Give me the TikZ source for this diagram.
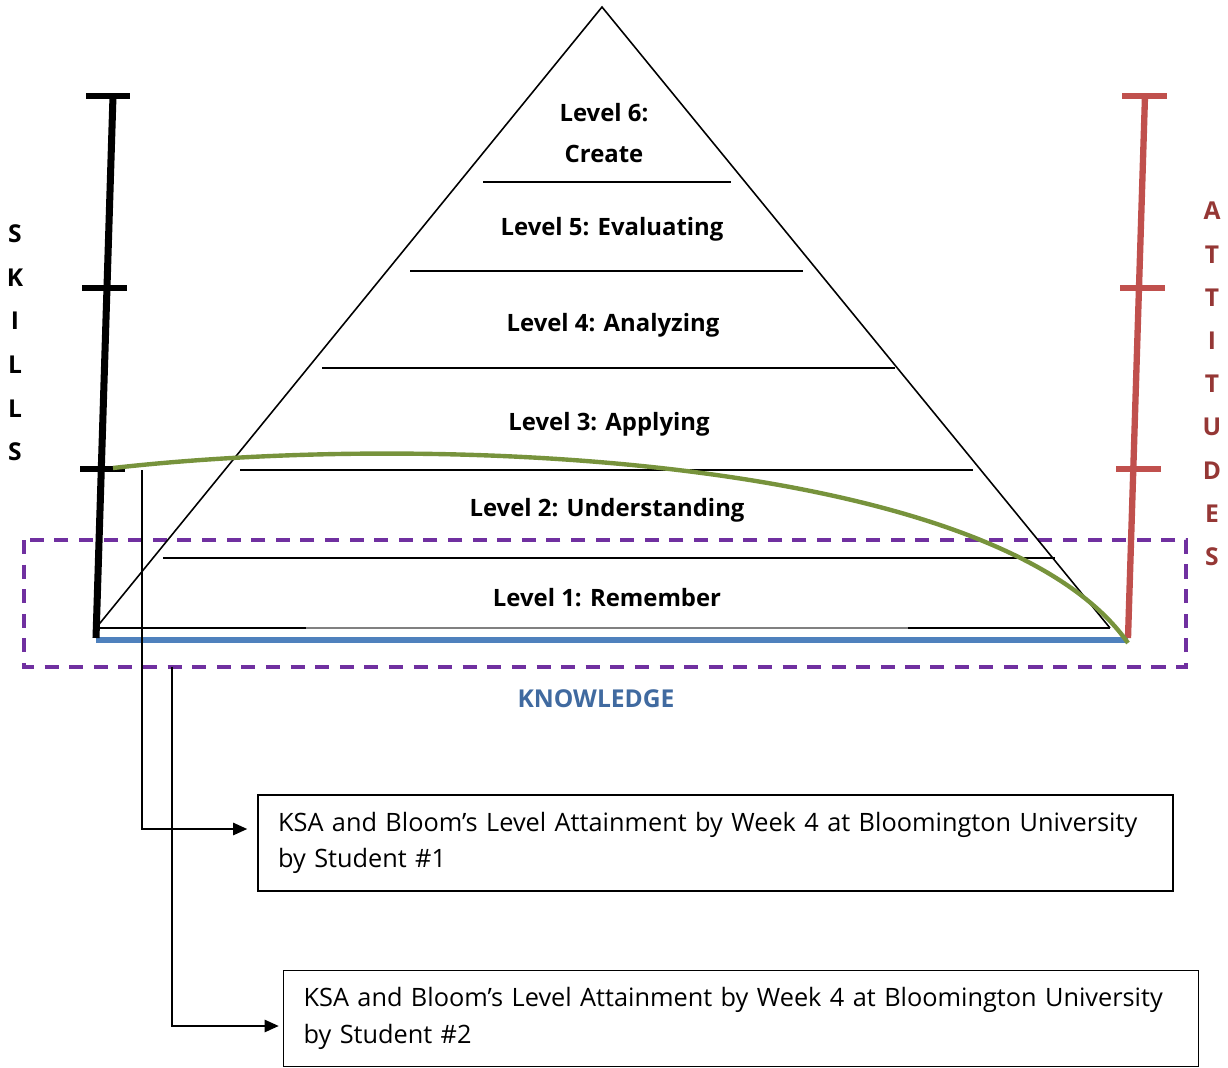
\documentclass[tikz,border=0pt]{standalone}
\usepackage{fontspec}
\setmainfont{Open Sans}
\usetikzlibrary{arrows.meta, positioning}
\definecolor{knowblue}{RGB}{79,129,189}
\definecolor{knowtext}{RGB}{64,106,160}
\definecolor{attred}{RGB}{192,80,77}
\definecolor{atttext}{RGB}{149,55,53}
\definecolor{curvegreen}{RGB}{119,147,60}
\definecolor{boxpurple}{RGB}{112,48,160}

\begin{document}
\begin{tikzpicture}[
    x=0.02cm, y=-0.02cm,
    lvl/.style={font=\bfseries\fontsize{13.6}{16}\selectfont, inner sep=0pt, align=center},
    rung/.style={line width=0.9pt},
    letter/.style={font=\bfseries\fontsize{14}{16}\selectfont, inner sep=0pt},
    bar/.style={line width=4pt},
    tickbar/.style={line width=3.6pt},
    ksabox/.style={draw, line width=1pt, minimum height=1.92cm, text width=17.5cm,
                   inner xsep=0.4cm, align=left, font=\fontsize{14.4}{20.6}\selectfont},
    ar/.style={-{Triangle[length=8pt, width=7pt]}, line width=1pt},
]
\useasboundingbox (0,0) rectangle (1228,1068);

% knowledge frame
\draw[boxpurple, line width=2.2pt, dash pattern=on 8pt off 6pt] (24,540) rectangle (1186,667);

% pyramid
\coordinate (apex) at (602,7);
\coordinate (baseL) at (96,628);
\coordinate (baseR) at (1110,628);
\draw[rung] (baseL) -- (apex) -- (baseR);
\draw[rung] (483,182) -- (731,182);
\draw[rung] (410,271) -- (803,271);
\draw[rung] (322,368) -- (895,368);
\draw[rung] (240,470) -- (973,470);
\draw[rung] (163,558) -- (1055,558);
\draw[rung] (baseL) -- (306,628);
\draw[line width=0.6pt, gray] (306,628) -- (908,628);
\draw[rung] (908,628) -- (baseR);

\node[lvl] (l6) at (604,133) {Level 6:\\[7pt]Create};
\node[lvl] (l5) at (612,229) {Level 5: Evaluating};
\node[lvl] (l4) at (613,325) {Level 4: Analyzing};
\node[lvl] (l3) at (609,424) {Level 3: Applying};
\node[lvl] (l2) at (607,510) {Level 2: Understanding};
\node[lvl] (l1) at (607,598) {Level 1: Remember};

% knowledge axis
\draw[knowblue, line width=3pt] (96,640) -- (1128,640);
\node[letter, text=knowtext] (know) at (596,699) {KNOWLEDGE};

% skills axis
\draw[bar] (96,638) -- (113,96);
\draw[tickbar] (86,96) -- (130,96);
\draw[tickbar] (82,288) -- (127,288);
\draw[tickbar] (80,469) -- (125,469);
\foreach \ch [count=\i] in {S,K,I,L,L,S}
  \node[letter] (skill\i) at (15,{234+43.6*(\i-1)}) {\ch};

% attitudes axis
\draw[bar, attred, line width=3.6pt] (1128,638) -- (1145,96);
\draw[tickbar, attred] (1122,96) -- (1167,96);
\draw[tickbar, attred] (1120,288) -- (1165,288);
\draw[tickbar, attred] (1116,469) -- (1161,469);
\foreach \ch [count=\i] in {A,T,T,I,T,U,D,E,S}
  \node[letter, text=atttext] (att\i) at (1212,{211+43.25*(\i-1)}) {\ch};

% attainment curve
\coordinate (gstart) at (113,468);
\coordinate (gend) at (1128,643);
\draw[curvegreen, line width=2.5pt] (gstart) .. controls (450,430) and (1000,460) .. (gend);

% student boxes
\node[ksabox] (stud1) at (715.5,843) {KSA and Bloom’s Level Attainment by Week 4 at Bloomington University\\by Student \#1};
\node[ksabox] (stud2) at (741,1018.5) {KSA and Bloom’s Level Attainment by Week 4 at Bloomington University\\by Student \#2};

\coordinate (from1) at (142,470);
\coordinate (from2) at (172,667);
\draw[ar, shorten >=0.2cm] (from1) |- ([yshift=0.28cm]stud1.west);
\draw[ar, shorten >=0.08cm] (from2) |- ([yshift=-0.15cm]stud2.west);
\end{tikzpicture}
\end{document}
